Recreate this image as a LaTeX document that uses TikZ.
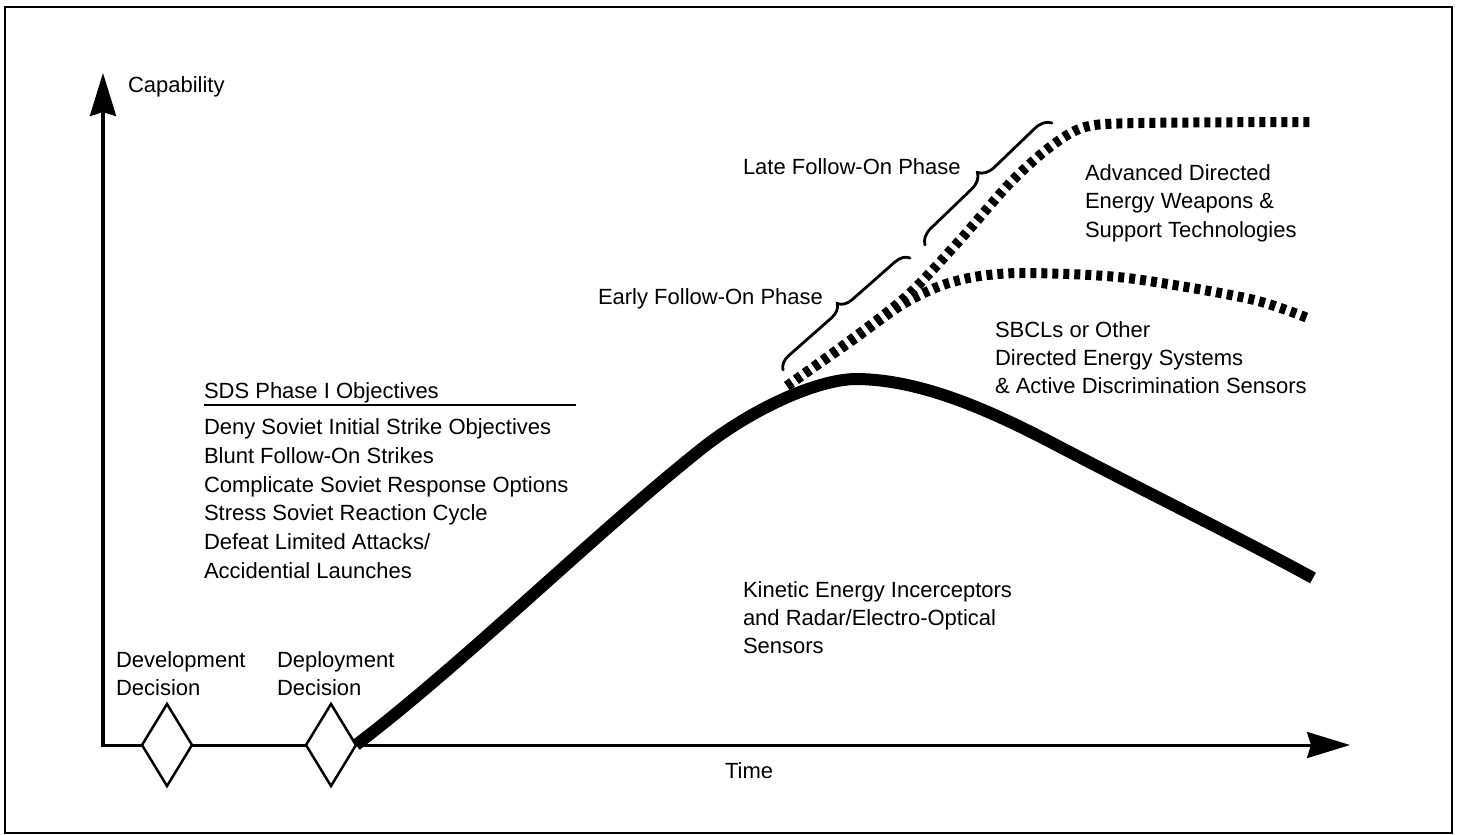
\documentclass[tikz,border=0pt]{standalone}
\usepackage{fontspec}
\setmainfont{Liberation Sans}
\usetikzlibrary{arrows.meta,shapes.geometric,decorations.pathreplacing}
\begin{document}
\begin{tikzpicture}[x=1pt,y=-1pt,
  lbl/.style={anchor=base west, inner sep=0pt, outer sep=0pt, font=\fontsize{22}{28.8}\selectfont},
  axisline/.style={line width=3pt, -{Stealth[length=43pt,width=26pt,inset=4pt]}},
  decbox/.style={diamond, draw, line width=2.5pt, fill=white, minimum width=50pt, minimum height=82pt, inner sep=0pt, outer sep=0pt},
  mainline/.style={line width=12pt, line cap=butt},
  hatch/.style={line width=10pt, dash pattern=on 6pt off 5pt},
  phasebrace/.style={decorate, decoration={brace, amplitude=#1}, line width=2.8pt, line cap=round}]
\useasboundingbox (0,0) rectangle (1459,835);
% frame
\draw[line width=1.5pt] (5,7) rectangle (1452,833);
% axes
\coordinate (O) at (103,745);
\coordinate (Oy) at (103,747);
\coordinate (ytip) at (103,73);
\coordinate (xtip) at (1350,745);
\draw[axisline] (O) -- (xtip);
\draw[axisline, line width=4pt] (Oy) -- (ytip);
\node[lbl] (cap) at (128,92) {Capability};
\node[lbl] (time) at (725,778) {Time};
% decision diamonds
\node[decbox] (dev) at (167,745) {};
\node[decbox] (dep) at (331,745) {};
\node[lbl] (dev1) at (116,667) {Development};
\node[lbl] (dev2) at (116,695) {Decision};
\node[lbl] (dep1) at (277,667) {Deployment};
\node[lbl] (dep2) at (277,695) {Decision};
% objectives
\node[lbl] (sds) at (204,398) {SDS Phase I Objectives};
\coordinate (ul1) at (204,405);
\coordinate (ul2) at (576,405);
\draw[line width=1.5pt] (ul1) -- (ul2);
\foreach \t [count=\i] in {Deny Soviet Initial Strike Objectives, Blunt Follow-On Strikes, Complicate Soviet Response Options, Stress Soviet Reaction Cycle, Defeat Limited Attacks/, Accidential Launches}
  \node[lbl] (obj\i) at (204,{434.5+28.8*(\i-1)}) {\t};
% main kinetic curve
\coordinate (k1) at (700,450);
\coordinate (kpeak) at (855,379);
\coordinate (k3) at (1060,447);
\coordinate (kend) at (1313,578);
\draw[mainline] (dep.east) .. controls (466,661) and (590,538) .. (k1)
  .. controls (750,410) and (815,380) .. (kpeak)
  .. controls (920,379) and (990,410) .. (k3)
  .. controls (1150,494) and (1240,538) .. (kend);
% hatched curves
\coordinate (hs) at (787,386);
\coordinate (hend1) at (1313,122);
\coordinate (hend2) at (1310,319);
\draw[hatch] plot[smooth, tension=0.5] coordinates {(hs) (860,333) (910,293) (960,240) (1010,183) (1050,147) (1085,127) (1140,123) (hend1)};
\draw[hatch] plot[smooth, tension=0.5] coordinates {(hs) (850,342) (900,306) (940,286) (980,276) (1030,273) (1127,278) (1250,299) (hend2)};
% braces
\coordinate (eb1) at (783,370);
\coordinate (eb2) at (910,258);
\coordinate (lb1) at (925,245);
\coordinate (lb2) at (1052,123);
\draw[phasebrace=14pt] (eb1) -- (eb2);
\draw[phasebrace=16pt] (lb1) -- (lb2);
\node[lbl] (early) at (598,304) {Early Follow-On Phase};
\node[lbl] (late) at (743,174) {Late Follow-On Phase};
% region labels
\node[lbl] (adv1) at (1085,180) {Advanced Directed};
\node[lbl] (adv2) at (1085,208.5) {Energy Weapons \&};
\node[lbl] (adv3) at (1085,237) {Support Technologies};
\node[lbl] (sb1) at (995,337) {SBCLs or Other};
\node[lbl] (sb2) at (995,365) {Directed Energy Systems};
\node[lbl] (sb3) at (995,393) {\& Active Discrimination Sensors};
\node[lbl] (ke1) at (743,597) {Kinetic Energy Incerceptors};
\node[lbl] (ke2) at (743,625) {and Radar/Electro-Optical};
\node[lbl] (ke3) at (743,653) {Sensors};
\end{tikzpicture}
\end{document}
